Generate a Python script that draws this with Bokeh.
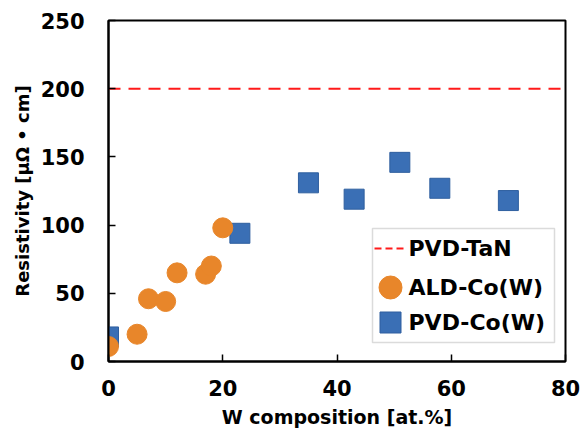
from bokeh.plotting import figure
from bokeh.models import FixedTicker, Range1d, BoxAnnotation, Label
from bokeh.embed import file_html
from bokeh.resources import INLINE

# Resistivity vs W composition
ald_w = [0, 5, 7, 10, 12, 17, 18, 20]
ald_rho = [11, 20, 46, 44, 65, 64, 70, 98]

pvd_w = [0, 23, 35, 43, 51, 58, 70]
pvd_rho = [18, 94, 131, 119, 146, 127, 118]

tan_rho = 200

x_ticks = [0, 20, 40, 60, 80]
y_ticks = [0, 50, 100, 150, 200, 250]

legend_labels = ["PVD-TaN", "ALD-Co(W)", "PVD-Co(W)"]

FONT = "DejaVu Sans"
RED = "#FF1A1A"
ORANGE = "#E8862A"
BLUE = "#3A6FB5"

W, H = 583, 438
LEFT, RIGHT, TOP, BOTTOM = 108, 18, 20, 77
FRAME_W = W - LEFT - RIGHT
FRAME_H = H - TOP - BOTTOM

p = figure(width=W, height=H, output_backend="svg", toolbar_location=None,
           x_range=Range1d(0, 80), y_range=Range1d(0, 250),
           min_border_left=LEFT, min_border_right=RIGHT, min_border_top=TOP,
           min_border_bottom=BOTTOM)

# pixel ranges spanning the frame, used to lay out the key box
p.extra_x_ranges = {"px": Range1d(0, FRAME_W)}
p.extra_y_ranges = {"px": Range1d(0, FRAME_H)}

p.grid.visible = False
p.outline_line_color = "black"
p.outline_line_width = 2
p.background_fill_color = "white"
p.border_fill_color = "white"

for ax in (p.xaxis[0], p.yaxis[0]):
    ax.axis_line_color = "black"
    ax.axis_line_width = 2
    ax.major_tick_line_color = "black"
    ax.major_tick_line_width = 1.5
    ax.major_tick_in = 7
    ax.major_tick_out = 0
    ax.minor_tick_line_color = None
    ax.major_label_text_font = FONT
    ax.major_label_text_font_style = "bold"
    ax.major_label_text_font_size = "21px"
    ax.major_label_text_color = "black"
    ax.axis_label_text_font = FONT
    ax.axis_label_text_font_style = "bold"
    ax.axis_label_text_color = "black"

p.xaxis.ticker = FixedTicker(ticks=x_ticks)
p.yaxis.ticker = FixedTicker(ticks=y_ticks)
p.xaxis.axis_label = "W composition [at.%]"
p.yaxis.axis_label = "Resistivity [μΩ • cm]"
p.xaxis.axis_label_text_font_size = "19px"
p.yaxis.axis_label_text_font_size = "18px"
p.xaxis.major_label_standoff = 18
p.xaxis.axis_label_standoff = 7
p.yaxis.major_label_standoff = 24
p.yaxis.axis_label_standoff = 5

# reference level of the PVD-TaN barrier
p.line(x=[p.x_range.start, p.x_range.end], y=[tan_rho, tan_rho],
       line_color=RED, line_width=2, line_dash="12 8")
p.scatter(pvd_w, pvd_rho, marker="square", size=20,
          fill_color=BLUE, line_color="#2F5F9F", line_width=1)
p.scatter(ald_w, ald_rho, marker="circle", size=20,
          fill_color=ORANGE, line_color=ORANGE, line_width=1)

# key box (frame pixel coordinates, origin at bottom-left of the frame)
box_l, box_r, box_b, box_t = 264, 446, 19, 133
p.add_layout(BoxAnnotation(left=box_l, right=box_r, bottom=box_b, top=box_t,
                           x_range_name="px", y_range_name="px",
                           fill_color="white", fill_alpha=1,
                           line_color="#888888", line_width=1.5))

row_y = [113, 74, 39]
key_x = 282
p.line(x=[key_x - 16, key_x + 13], y=[row_y[0], row_y[0]],
       x_range_name="px", y_range_name="px", level="overlay",
       line_color=RED, line_width=2, line_dash="7 4")
p.scatter(x=[key_x], y=[row_y[1]], marker="circle", size=23,
          x_range_name="px", y_range_name="px", level="overlay",
          fill_color=ORANGE, line_color=ORANGE)
p.scatter(x=[key_x], y=[row_y[2]], marker="square", size=21,
          x_range_name="px", y_range_name="px", level="overlay",
          fill_color=BLUE, line_color="#2F5F9F")

for text, ty in zip(legend_labels, row_y):
    p.add_layout(Label(x=box_l + 36, y=ty, text=text,
                       x_range_name="px", y_range_name="px",
                       text_font=FONT, text_font_style="bold",
                       text_font_size="22px", text_color="black",
                       text_baseline="middle", text_align="left"))

open("out.html", "w").write(file_html(p, INLINE))
